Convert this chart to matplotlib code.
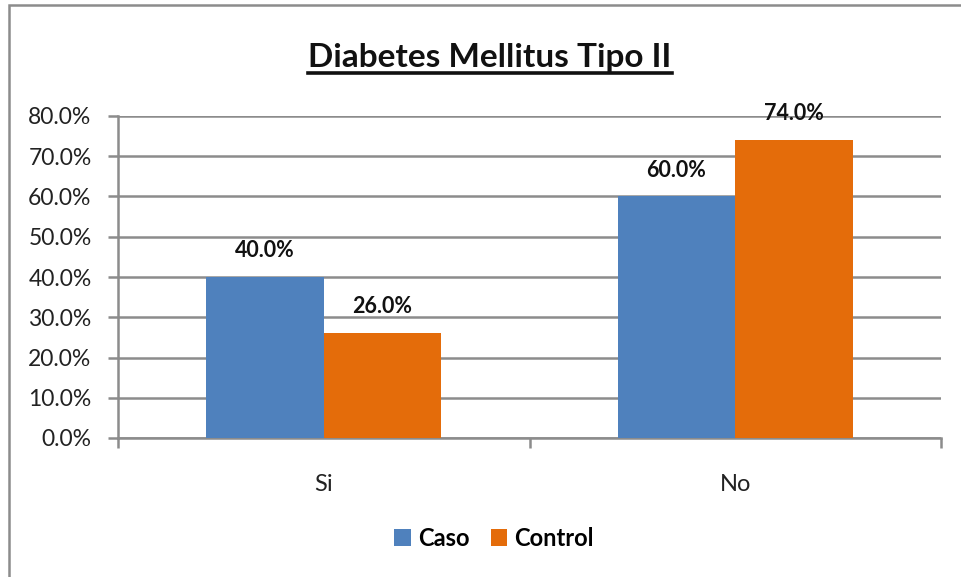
import matplotlib
matplotlib.use("Agg")
import matplotlib.pyplot as plt
from matplotlib.lines import Line2D
from matplotlib.patches import Rectangle
import numpy as np

plt.rcParams['font.family'] = ['Lato', 'DejaVu Sans']

categories = ["Si", "No"]
series_names = ["Caso", "Control"]
caso = [40.0, 60.0]
control = [26.0, 74.0]
yticks = [0, 10, 20, 30, 40, 50, 60, 70, 80]

colors = ["#4F81BD", "#E46C0A"]
grid_color = "#8C8C8C"

fig = plt.figure(figsize=(9.61, 5.77), dpi=100)
ax = fig.add_axes([118 / 961, 1 - 438 / 577, (941 - 118) / 961, (438 - 116) / 577])

# outer chart frame
fig.patches.append(Rectangle((9 / 961, -0.2), 1.2, 1.2 - 5 / 577,
                             transform=fig.transFigure, fill=False,
                             edgecolor="#8C8C8C", linewidth=1.8))

x = np.arange(len(categories))
w = 0.286
bars1 = ax.bar(x - w / 2, caso, w, color=colors[0], label=series_names[0], zorder=3)
bars2 = ax.bar(x + w / 2, control, w, color=colors[1], label=series_names[1], zorder=3)

for bars, vals in ((bars1, caso), (bars2, control)):
    for b, v in zip(bars, vals):
        ax.annotate(f"{v:.1f}%", (b.get_x() + b.get_width() / 2, v),
                    xytext=(0, 19), textcoords="offset points",
                    ha="center", va="center", fontsize=15.5, fontweight="bold",
                    color="#111111", zorder=5)

ax.set_xlim(-0.5, 1.5)
ax.set_ylim(0, 80)
ax.set_yticks(yticks)
ax.set_yticklabels([f"{t:.1f}%" for t in yticks], fontsize=16.5, color="#222222")
ax.yaxis.grid(True, color=grid_color, linewidth=1.8, zorder=0)
ax.set_axisbelow(True)

ax.set_xticks(x)
ax.set_xticklabels(categories, fontsize=17, color="#222222")
ax.tick_params(axis="x", length=0, pad=26)
ax.set_xticks([-0.5, 0.5, 1.5], minor=True)
ax.tick_params(axis="x", which="minor", length=7, width=1.8, color=grid_color, direction="out")
ax.tick_params(axis="y", length=7, width=1.8, color=grid_color, direction="out", pad=12)

for s in ("top", "right"):
    ax.spines[s].set_visible(False)
for s in ("left", "bottom"):
    ax.spines[s].set_color(grid_color)
    ax.spines[s].set_linewidth(1.8)

# title with underline
title = fig.text(490 / 961, 1 - 57 / 577, "Diabetes Mellitus Tipo II",
                 ha="center", va="center", fontsize=24, fontweight="bold", color="#111111")
fig.canvas.draw()
bb = title.get_window_extent().transformed(fig.transFigure.inverted())
uy = bb.y0 - 1 / 577
fig.add_artist(Line2D([bb.x0, bb.x1], [uy, uy], transform=fig.transFigure,
                      color="#111111", linewidth=2.6))

leg = fig.legend(handles=[bars1, bars2], labels=series_names, loc="center",
                 bbox_to_anchor=(494 / 961, 1 - 538 / 577), ncol=2, frameon=False,
                 prop={"size": 17, "weight": "bold"}, handlelength=0.7, handleheight=0.7,
                 handletextpad=0.3, columnspacing=0.9)

fig.savefig("out.png", dpi=100)
